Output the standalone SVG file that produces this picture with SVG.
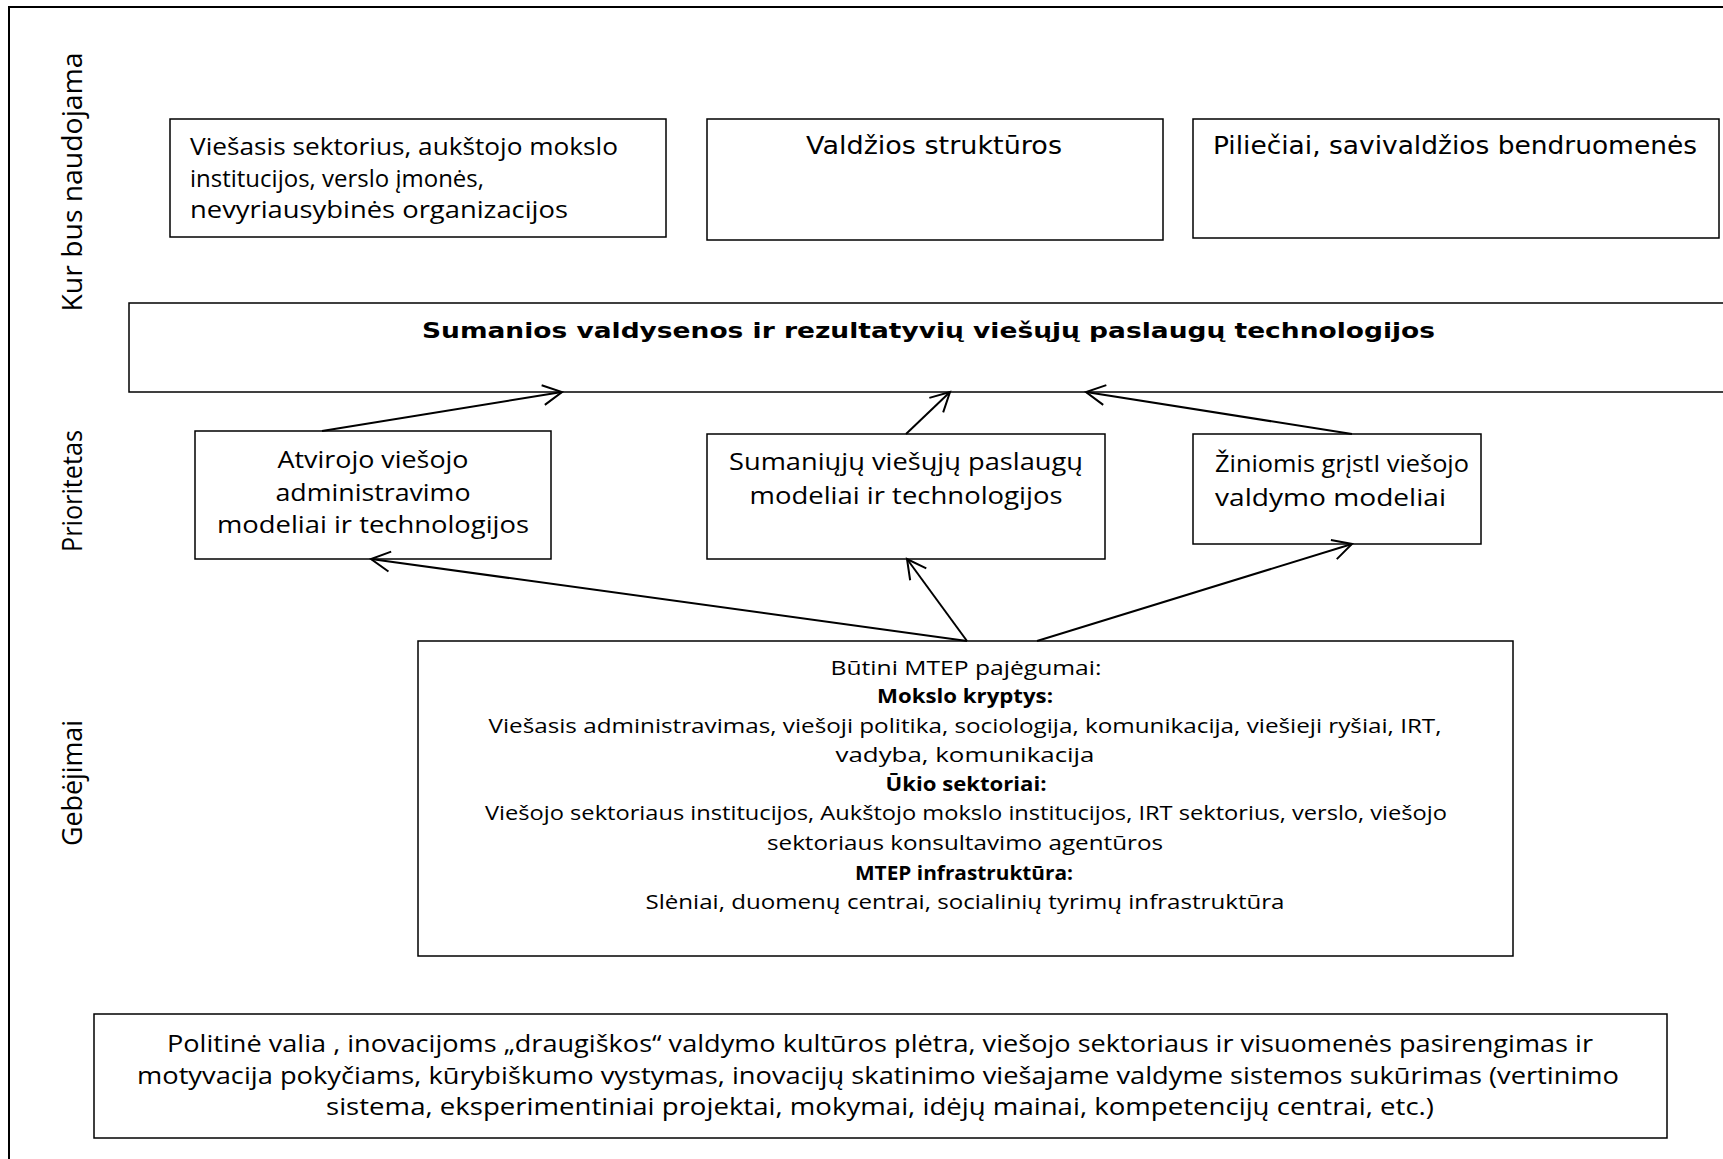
<svg xmlns="http://www.w3.org/2000/svg" width="1723" height="1159" viewBox="0 0 1723 1159">
<style>
.box{fill:#fff;stroke:#000;stroke-width:1.5}
.cg{font-family:"Open Sans","DejaVu Sans",sans-serif;font-size:23px;fill:#000}
.cgs{font-family:"Open Sans","DejaVu Sans",sans-serif;font-size:20px;fill:#000}
.cgb{font-family:"Open Sans","DejaVu Sans",sans-serif;font-size:20px;font-weight:bold;fill:#000}
.vd{font-family:"DejaVu Sans","Liberation Sans",sans-serif;font-size:25px;fill:#000}
.vdb{font-family:"DejaVu Sans","Liberation Sans",sans-serif;font-size:22px;font-weight:bold;fill:#000}
.vl{font-family:"Open Sans","DejaVu Sans",sans-serif;font-size:28px;fill:#000}
.c{text-anchor:middle}
.conn line{stroke:#000;stroke-width:2;marker-end:url(#arr)}
</style>
<defs>
<marker id="arr" markerUnits="userSpaceOnUse" markerWidth="40" markerHeight="40" refX="20" refY="20" orient="auto" overflow="visible">
<path d="M1,10 L20,20 L1,30" fill="none" stroke="#000" stroke-width="2"/>
</marker>
</defs>
<rect width="1723" height="1159" fill="#fff"/>
<path d="M1730,7 H9 V1165" fill="none" stroke="#000" stroke-width="2"/>

<g id="label-kur"><text class="vl c" transform="translate(82,182) rotate(-90)" textLength="259" lengthAdjust="spacingAndGlyphs">Kur bus naudojama</text></g>
<g id="label-prioritetas"><text class="vl c" transform="translate(82,491) rotate(-90)" textLength="122" lengthAdjust="spacingAndGlyphs">Prioritetas</text></g>
<g id="label-gebejimai"><text class="vl c" transform="translate(82,783) rotate(-90)" textLength="126" lengthAdjust="spacingAndGlyphs">Gebėjimai</text></g>

<g id="use-1">
<rect class="box" x="170" y="119" width="496" height="118"/>
<text class="cg" x="190" y="155" textLength="428" lengthAdjust="spacingAndGlyphs">Viešasis sektorius, aukštojo mokslo</text>
<text class="cg" x="190" y="187" textLength="294" lengthAdjust="spacingAndGlyphs">institucijos, verslo įmonės,</text>
<text class="cg" x="190" y="218" textLength="378" lengthAdjust="spacingAndGlyphs">nevyriausybinės organizacijos</text>
</g>
<g id="use-2">
<rect class="box" x="707" y="119" width="456" height="121"/>
<text class="vd c" x="934" y="154" textLength="256" lengthAdjust="spacingAndGlyphs">Valdžios struktūros</text>
</g>
<g id="use-3">
<rect class="box" x="1193" y="119" width="526" height="119"/>
<text class="vd" x="1213" y="154" textLength="484" lengthAdjust="spacingAndGlyphs">Piliečiai, savivaldžios bendruomenės</text>
</g>

<g id="goal">
<rect class="box" x="129" y="303" width="1620" height="89"/>
<text class="vdb c" x="928.5" y="338" textLength="1013" lengthAdjust="spacingAndGlyphs">Sumanios valdysenos ir rezultatyvių viešųjų paslaugų technologijos</text>
</g>

<g id="prio-a">
<rect class="box" x="195" y="431" width="356" height="128"/>
<text class="cg c" x="373" y="468" textLength="191" lengthAdjust="spacingAndGlyphs">Atvirojo viešojo</text>
<text class="cg c" x="373" y="501" textLength="195" lengthAdjust="spacingAndGlyphs">administravimo</text>
<text class="cg c" x="373" y="533" textLength="312" lengthAdjust="spacingAndGlyphs">modeliai ir technologijos</text>
</g>
<g id="prio-b">
<rect class="box" x="707" y="434" width="398" height="125"/>
<text class="cg c" x="906" y="470" textLength="354" lengthAdjust="spacingAndGlyphs">Sumaniųjų viešųjų paslaugų</text>
<text class="cg c" x="906" y="504" textLength="313" lengthAdjust="spacingAndGlyphs">modeliai ir technologijos</text>
</g>
<g id="prio-c">
<rect class="box" x="1193" y="434" width="288" height="110"/>
<text class="cg" x="1215" y="472" textLength="254" lengthAdjust="spacingAndGlyphs">Žiniomis grįstI viešojo</text>
<text class="cg" x="1215" y="506" textLength="231" lengthAdjust="spacingAndGlyphs">valdymo modeliai</text>
</g>

<g id="capabilities">
<rect class="box" x="418" y="641" width="1095" height="315"/>
<text class="cgs c" x="966" y="675" textLength="271" lengthAdjust="spacingAndGlyphs">Būtini MTEP pajėgumai:</text>
<text class="cgb c" x="965" y="703" textLength="176" lengthAdjust="spacingAndGlyphs">Mokslo kryptys:</text>
<text class="cgs c" x="965" y="733" textLength="953" lengthAdjust="spacingAndGlyphs">Viešasis administravimas, viešoji politika, sociologija, komunikacija, viešieji ryšiai, IRT,</text>
<text class="cgs c" x="965" y="762" textLength="259" lengthAdjust="spacingAndGlyphs">vadyba, komunikacija</text>
<text class="cgb c" x="966" y="791" textLength="161" lengthAdjust="spacingAndGlyphs">Ūkio sektoriai:</text>
<text class="cgs c" x="966" y="820" textLength="962" lengthAdjust="spacingAndGlyphs">Viešojo sektoriaus institucijos, Aukštojo mokslo institucijos, IRT sektorius, verslo, viešojo</text>
<text class="cgs c" x="965" y="850" textLength="396" lengthAdjust="spacingAndGlyphs">sektoriaus konsultavimo agentūros</text>
<text class="cgb c" x="964" y="880" textLength="218" lengthAdjust="spacingAndGlyphs">MTEP infrastruktūra:</text>
<text class="cgs c" x="965" y="909" textLength="639" lengthAdjust="spacingAndGlyphs">Slėniai, duomenų centrai, socialinių tyrimų infrastruktūra</text>
</g>

<g id="conditions">
<rect class="box" x="94" y="1014" width="1573" height="124"/>
<text class="cg c" x="880" y="1052" textLength="1426" lengthAdjust="spacingAndGlyphs">Politinė valia , inovacijoms „draugiškos“ valdymo kultūros plėtra, viešojo sektoriaus ir visuomenės pasirengimas ir</text>
<text class="cg c" x="878" y="1084" textLength="1482" lengthAdjust="spacingAndGlyphs">motyvacija pokyčiams, kūrybiškumo vystymas, inovacijų skatinimo viešajame valdyme sistemos sukūrimas (vertinimo</text>
<text class="cg c" x="880" y="1115" textLength="1108" lengthAdjust="spacingAndGlyphs">sistema, eksperimentiniai projektai, mokymai, idėjų mainai, kompetencijų centrai, etc.)</text>
</g>

<g id="connectors" class="conn">
<line x1="322" y1="431" x2="562" y2="392"/>
<line x1="906" y1="434" x2="950" y2="392"/>
<line x1="1352" y1="434" x2="1086" y2="392"/>
<line x1="967" y1="641" x2="371" y2="559"/>
<line x1="967" y1="641" x2="907" y2="559"/>
<line x1="1037" y1="641" x2="1352" y2="544"/>
</g>
</svg>
